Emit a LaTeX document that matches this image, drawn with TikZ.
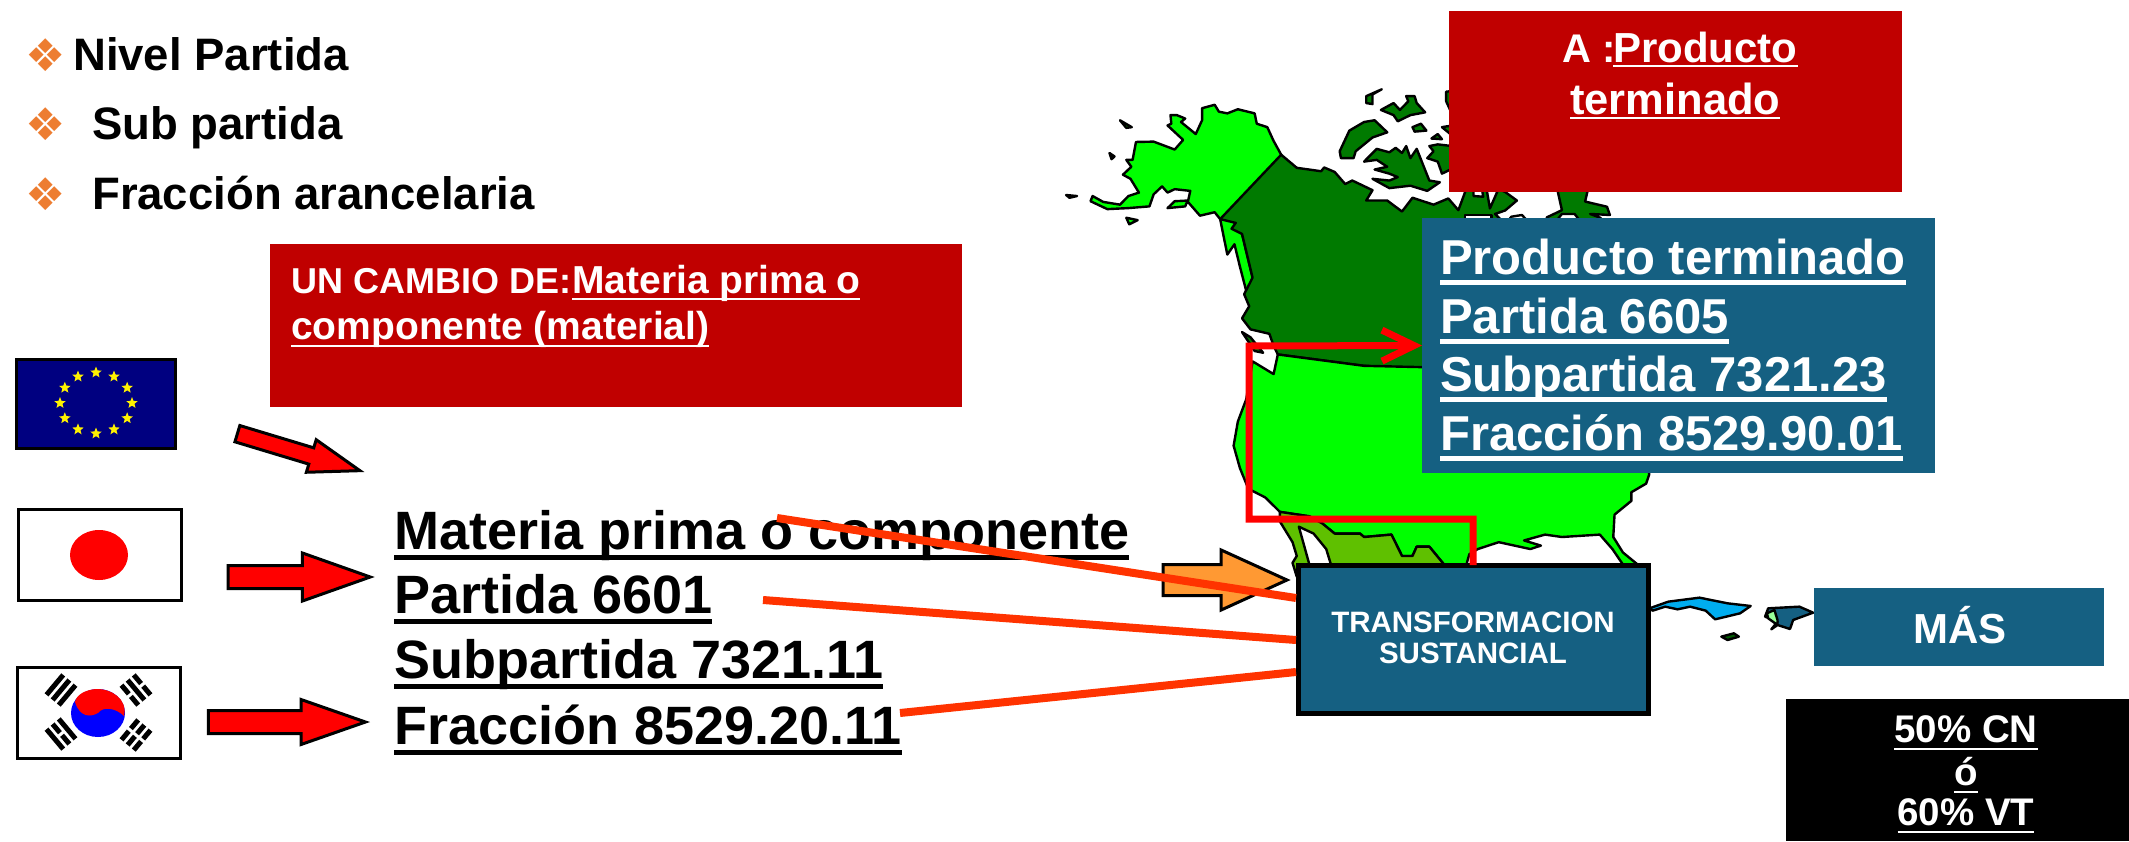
\documentclass[tikz,border=0pt]{standalone}
\usepackage{fontspec}
\usetikzlibrary{shapes.geometric,shapes.arrows,arrows.meta}
\setmainfont{Liberation Sans}
\newfontfamily\symfont{DejaVu Sans}
\definecolor{tealbox}{HTML}{156082}
\definecolor{redbox}{HTML}{C00000}
\definecolor{landlight}{HTML}{00FF00}
\definecolor{landdark}{HTML}{007A00}
\definecolor{landmex}{HTML}{5FC000}
\definecolor{linkred}{HTML}{FF3300}
\definecolor{arroworange}{HTML}{FF9933}
\definecolor{bulletorange}{HTML}{ED7D31}
\newcommand{\ulmark}[3]{\setbox0\hbox{#3}\rlap{\rule[-#1]{\wd0}{#2}}\box0}
\tikzset{
    landline/.style={draw=black, line width=2.4pt, line join=round},
    fillbox/.style={anchor=north west, inner sep=0pt, outer sep=0pt},
    flagbox/.style={fillbox, draw=black, line width=3pt},
    linetext/.style={anchor=base west, inner sep=0pt, font=\fontsize{#1}{#1}\selectfont\bfseries},
    midtext/.style={anchor=base, inner sep=0pt, text=white, font=\fontsize{#1}{#1}\selectfont\bfseries},
    bulletmark/.style={anchor=center, inner sep=0pt, text=bulletorange, font=\symfont\fontsize{45}{45}\selectfont},
    fatarrow/.style={single arrow, draw=black, line width=3pt, fill=red, inner xsep=0pt, single arrow head indent=0pt},
    eustar/.style={star, star points=5, star point ratio=2.3, fill=yellow, inner sep=0pt, minimum size=12pt},
    link/.style={linkred, line width=8pt},
    routeline/.style={red, line width=7pt, miter limit=10}
}
\begin{document}
\begin{tikzpicture}[x=1pt, y=-1pt]
\useasboundingbox (0,0) rectangle (2129,841);
\begin{scope}[xshift=1040pt, yshift=-60pt, x=0.4209pt, y=-0.3444pt]
    \filldraw[landline, fill=landlight] (573,275) -- (555,235) -- (540,195) -- (515,185) -- (510,155) -- (470,143) -- (445,155) -- (425,150) -- (415,130) -- (385,140) -- (385,175) -- (370,215) -- (345,190) -- (335,180) -- (345,170) -- (325,160) -- (310,160) -- (312,185) -- (303,190) -- (340,232) -- (320,260) -- (270,237) -- (228,238) -- (220,290) -- (205,290) -- (217,310) -- (197,333) -- (215,345) -- (235,385) -- (210,395) -- (190,420) -- (150,412) -- (125,395) -- (120,410) -- (160,433) -- (210,430) -- (260,425) -- (270,390) -- (290,367) -- (303,385) -- (320,375) -- (357,380) -- (352,408) -- (320,410) -- (303,430) -- (345,425) -- (350,410) -- (380,452) -- (415,442) -- (428,462) -- (445,565) -- (462,535) -- (475,600) -- (492,680) -- (505,632) -- (480,505) -- (465,473) -- cycle;
    \filldraw[landline, fill=landdark] (573,275) -- (610,313) -- (668,323) -- (675,312) -- (700,325) -- (725,360) -- (742,350) -- (790,378) -- (775,408) -- (825,408) -- (860,440) -- (885,400) -- (935,420) -- (970,402) -- (994,436) -- (1014,370) -- (1030,375) -- (1030,395) -- (1053,397) -- (1050,375) -- (1061,375) -- (1069,431) -- (1089,375) -- (1105,383) -- (1133,408) -- (1105,437) -- (1081,447) -- (1100,470) -- (1100,897) -- (908,897) -- (770,888) -- (565,855) -- (555,830) -- (545,795) -- (500,782) -- (480,750) -- (497,715) -- (485,680) -- (505,632) -- (480,505) -- (455,490) -- (465,473) -- (428,462) -- cycle;
    \filldraw[landline, fill=landdark] (1228,370) -- (1240,436) -- (1204,457) -- (1204,470) -- (1340,470) -- (1331,458) -- (1307,447) -- (1354,450) -- (1347,426) -- (1295,411) -- (1303,370) -- cycle;
    \filldraw[landline, fill=white] (1010,470) -- (1010,450) -- (1073,450) -- (1073,470) -- cycle;
    \filldraw[landline, fill=white] (1110,470) -- (1120,455) -- (1145,450) -- (1160,470) -- cycle;
    \filldraw[landline, fill=white] (1225,470) -- (1240,447) -- (1270,447) -- (1285,470) -- cycle;
    \filldraw[landline, fill=landlight] (565,855) -- (770,888) -- (1100,897) -- (1447,897) -- (1447,1205) -- (1440,1230) -- (1405,1255) -- (1405,1280) -- (1365,1320) -- (1362,1385) -- (1385,1430) -- (1420,1465) -- (1420,1500) -- (1385,1500) -- (1385,1465) -- (1360,1420) -- (1330,1378) -- (1240,1385) -- (1200,1378) -- (1150,1395) -- (1190,1410) -- (1165,1420) -- (1090,1400) -- (1040,1420) -- (1020,1435) -- (1005,1500) -- (960,1500) -- (960,1465) -- (925,1413) -- (895,1413) -- (885,1440) -- (860,1440) -- (835,1378) -- (770,1385) -- (760,1375) -- (700,1375) -- (670,1345) -- (640,1325) -- (570,1312) -- (535,1270) -- (495,1245) -- (475,1185) -- (460,1120) -- (470,1050) -- (490,985) -- (505,875) -- (555,912) -- cycle;
    \filldraw[landline, fill=landmex] (570,1312) -- (640,1325) -- (670,1345) -- (700,1375) -- (760,1375) -- (770,1385) -- (835,1378) -- (860,1440) -- (885,1440) -- (895,1413) -- (925,1413) -- (960,1465) -- (960,1500) -- (700,1500) -- (680,1420) -- (650,1375) -- (615,1355) -- (640,1465) -- (640,1500) -- (610,1500) -- (600,1460) -- (610,1440) -- (600,1400) -- (570,1340) -- cycle;
    \filldraw[landline, fill=landdark] (775,105) -- (812,85) -- (790,100) -- (790,128) -- (775,125) -- cycle;
    \filldraw[landline, fill=landdark] (810,145) -- (840,125) -- (855,145) -- (875,120) -- (870,105) -- (890,105) -- (895,125) -- (915,152) -- (880,160) -- (850,178) -- (840,160) -- cycle;
    \filldraw[landline, fill=landdark] (712,265) -- (735,205) -- (770,180) -- (795,175) -- (825,210) -- (790,225) -- (750,265) -- (745,285) -- (715,285) -- cycle;
    \filldraw[landline, fill=landdark] (885,195) -- (905,185) -- (918,205) -- (890,208) -- cycle;
    \filldraw[landline, fill=landdark] (930,228) -- (945,215) -- (955,230) -- cycle;
    \filldraw[landline, fill=landdark] (925,250) -- (945,245) -- (980,250) -- (980,315) -- (955,330) -- (945,295) -- (920,285) -- (935,265) -- cycle;
    \filldraw[landline, fill=landdark] (980,90) -- (965,92) -- (965,120) -- (980,160) -- cycle;
    \filldraw[landline, fill=landdark] (955,195) -- (980,190) -- (980,220) -- cycle;
    \filldraw[landline, fill=landdark] (770,295) -- (800,258) -- (830,268) -- (845,255) -- (860,270) -- (870,250) -- (880,285) -- (895,258) -- (925,350) -- (950,355) -- (920,380) -- (880,365) -- (830,372) -- (790,345) -- (830,350) -- (850,340) -- (830,330) -- (795,318) -- (825,310) -- (800,290) -- cycle;
    \filldraw[landline, fill=landlight] (190,175) -- (218,195) -- (205,197) -- cycle;
    \filldraw[landline, fill=landlight] (165,270) -- (177,280) -- (170,288) -- cycle;
    \filldraw[landline, fill=landlight] (62,392) -- (88,395) -- (70,400) -- cycle;
    \filldraw[landline, fill=landlight] (205,458) -- (232,465) -- (212,477) -- cycle;
    \filldraw[landline, fill=landdark] (480,790) -- (500,805) -- (530,850) -- (510,845) -- cycle;
\end{scope}
\begin{scope}[xshift=1150pt, yshift=-480pt, x=0.6244pt, y=-0.3333pt]
    \filldraw[landline, fill=cyan] (800,385) -- (830,365) -- (880,353) -- (925,370) -- (962,378) -- (945,400) -- (905,418) -- (890,392) -- (865,380) -- (845,388) -- (825,380) -- (805,392) -- cycle;
    \filldraw[landline, fill=tealbox] (990,385) -- (1040,380) -- (1062,398) -- (1030,420) -- (1025,447) -- (1005,435) -- (995,448) -- (1005,425) -- (985,410) -- cycle;
    \filldraw[landline, fill=green!40!white] (988,400) -- (1000,390) -- (1005,420) -- (1005,435) -- (990,415) -- cycle;
    \filldraw[landline, fill=green!35!black] (915,470) -- (935,460) -- (943,470) -- (925,480) -- cycle;
\end{scope}
\node[bulletmark] (marka) at (46,55) {❖};
\node[bulletmark] (markb) at (46,124) {❖};
\node[bulletmark] (markc) at (46,194) {❖};
\node[linetext=45.5] (levela) at (73,70) {Nivel Partida};
\node[linetext=45.5] (levelb) at (92,139) {Sub partida};
\node[linetext=45.5] (levelc) at (92,209) {Fracción arancelaria};
\node[fillbox, fill=redbox, minimum width=692pt, minimum height=163pt] (changebox) at (270,244) {};
\node[linetext=36, text=white] (changea) at (291,293) {UN CAMBIO DE:};
\node[linetext=39, text=white] (changeb) at (572,293) {\ulmark{7pt}{2.5pt}{Materia prima o}};
\node[linetext=39, text=white] (changec) at (291,339) {\ulmark{8pt}{2.5pt}{componente (material)}};
\node[fillbox, fill=redbox, minimum width=453pt, minimum height=181pt] (goalbox) at (1449,11) {};
\node[linetext=40, text=white] (goala) at (1562,62) {A :};
\node[linetext=42, text=white] (goalb) at (1613,62) {\ulmark{5pt}{2.5pt}{Producto}};
\node[linetext=43.5, text=white] (goalc) at (1570,114) {\ulmark{5pt}{2.5pt}{terminado}};
\node[fillbox, fill=tealbox, minimum width=513pt, minimum height=255pt] (prodbox) at (1422,218) {};
\node[linetext=49, text=white] (proda) at (1440,274) {\ulmark{11pt}{5pt}{Producto terminado}};
\node[linetext=49, text=white] (prodb) at (1440,333) {\ulmark{11pt}{5pt}{Partida 6605}};
\node[linetext=49, text=white] (prodc) at (1440,391) {\ulmark{11pt}{5pt}{Subpartida 7321.23}};
\node[linetext=49, text=white] (prodd) at (1440,450) {\ulmark{11pt}{5pt}{Fracción 8529.90.01}};
\node[fillbox, fill=tealbox, draw=black, line width=5pt, minimum width=350pt, minimum height=148pt] (tsbox) at (1298,565) {};
\node[midtext=29.5] (tsa) at (1473,632) {TRANSFORMACION};
\node[midtext=29.5] (tsb) at (1473,663) {SUSTANCIAL};
\node[fillbox, fill=tealbox, minimum width=290pt, minimum height=78pt] (morebox) at (1814,588) {};
\node[midtext=42] (moretext) at (1960,643) {MÁS};
\node[fillbox, fill=black, minimum width=343pt, minimum height=142pt] (pctbox) at (1786,699) {};
\node[midtext=38.5] (pcta) at (1966,742) {\ulmark{8pt}{2.5pt}{50\% CN}};
\node[midtext=38.5] (pctb) at (1966,785) {\ulmark{8pt}{2.5pt}{ó}};
\node[midtext=38.5] (pctc) at (1966,825) {\ulmark{8pt}{2.5pt}{60\% VT}};
\node[flagbox, fill=blue!50!black, minimum width=159pt, minimum height=89pt] (euflag) at (16,359) {};
\foreach \a in {0,30,...,330} {
    \node[eustar] (star\a) at ({96+36*cos(\a)},{403+30.5*sin(\a)}) {};
}
\node[flagbox, fill=white, minimum width=163pt, minimum height=91pt] (jpflag) at (18,509.5) {};
\fill[red] (99,555) ellipse [x radius=29, y radius=25];
\node[flagbox, fill=white, minimum width=163pt, minimum height=91pt] (krflag) at (17,667) {};
\begin{scope}[shift={(98,713)}]
    \fill[blue] (0,0) ellipse [x radius=27, y radius=24];
    \fill[red] (-23,-11) .. controls (-18,5) and (-7,4) .. (0,0) .. controls (5,-7) and (18,-5) .. (26,3) .. controls (30,-15) and (12,-24) .. (0,-24) .. controls (-12,-24) and (-22,-18) .. (-23,-11) -- cycle;
\end{scope}
\foreach \cx/\cy/\ang/\ra/\rb/\rc in {61/690/50/1/1/1, 136/690/-50/0/1/0, 61/734/-50/1/0/1, 136/735/50/0/0/0} {
    \begin{scope}[shift={(\cx,\cy)}, rotate=\ang]
        \foreach \ry/\rk in {-8/\ra, 0/\rb, 8/\rc} {
            \fill (-13,\ry-2.5) rectangle (13,\ry+2.5);
            \ifnum\rk=0 \fill[white] (-1.5,\ry-3.5) rectangle (1.5,\ry+3.5); \fi
        }
    \end{scope}
}
\node[fatarrow, inner ysep=7pt, rotate=-16.8, minimum height=128pt, single arrow head extend=8.5pt, single arrow tip angle=37] (euarrow) at (286.5,448.5) {};
\node[fatarrow, inner ysep=10pt, minimum height=142pt, single arrow head extend=12.5pt, single arrow tip angle=39] (jparrow) at (283,577) {};
\node[fatarrow, inner ysep=10pt, minimum height=157pt, single arrow head extend=11pt, single arrow tip angle=38.5] (krarrow) at (270.5,722) {};
\node[fatarrow, inner ysep=14pt, fill=arroworange, minimum height=124pt, single arrow head extend=14.5pt, single arrow tip angle=49] (mexarrow) at (1208,580) {};
\node[linetext=54] (mata) at (394,549) {\ulmark{10.5pt}{5pt}{Materia prima o componente}};
\node[linetext=54] (matb) at (394,613) {\ulmark{10.5pt}{5pt}{Partida 6601}};
\node[linetext=54] (matc) at (394,678) {\ulmark{10.5pt}{5pt}{Subpartida 7321.11}};
\node[linetext=54] (matd) at (394,744) {\ulmark{10.5pt}{5pt}{Fracción 8529.20.11}};
\coordinate (freea) at (777,518);
\coordinate (freeb) at (763,600);
\coordinate (freec) at (900,713);
\coordinate (ina) at (1296,598);
\coordinate (inb) at (1296,640);
\coordinate (inc) at (1296,672);
\draw[link] (freea) -- (ina);
\draw[link] (freeb) -- (inb);
\draw[link] (freec) -- (inc);
\coordinate (bendc) at (1473,519);
\coordinate (bendb) at (1249,519);
\coordinate (benda) at (1249,346);
\draw[routeline, -{Straight Barb[length=32pt, width=31pt]}] (tsbox.north) -- (bendc) -- (bendb) -- (benda) -- (prodbox.west);
\end{tikzpicture}
\end{document}
